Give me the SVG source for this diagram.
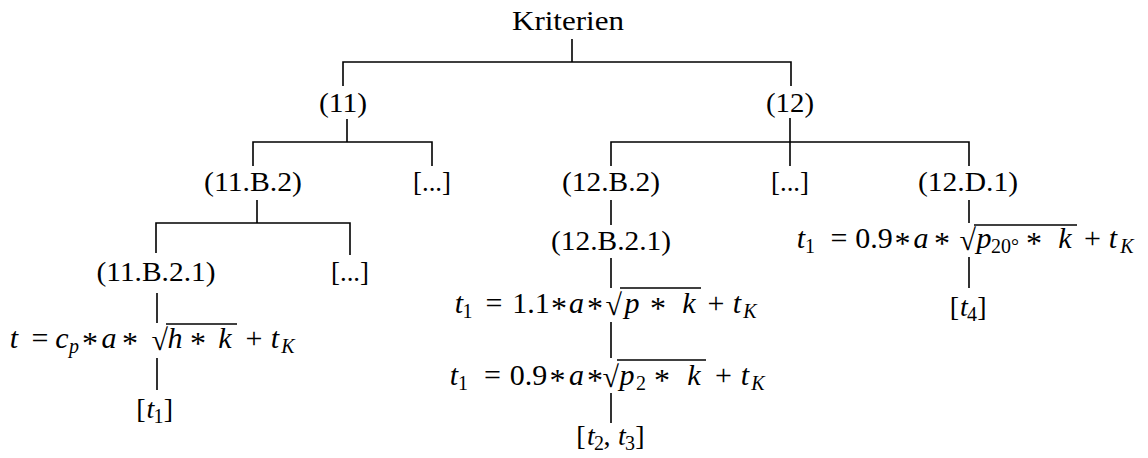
<svg xmlns="http://www.w3.org/2000/svg" width="1148" height="458" viewBox="0 0 1148 458">
<style>
.t{font-family:"Liberation Serif","Times New Roman",serif;font-size:28px;fill:#000;text-anchor:middle}
.m{font-family:"Liberation Serif","Times New Roman",serif;font-size:30px;fill:#000;text-anchor:middle}
.i{font-style:italic}
.s{font-size:20px}
.op{font-size:32px}
.rd{font-size:30px;text-anchor:end}
.c{stroke:#000;stroke-width:1.6;fill:none}
.ov{stroke:#000;stroke-width:1.3}
</style>
<rect width="1148" height="458" fill="#fff"/>
<g id="connectors">
<path class="c" d="M572 39V62M343 86V62H791V86"/>
<path class="c" d="M347 119V142M253 166V142H432V166"/>
<path class="c" d="M790 118V166M611 166V142H969V166"/>
<path class="c" d="M257 200V223M156 253V223H350V255"/>
<path class="c" d="M157 293V323M157 358V390"/>
<path class="c" d="M611 200V225M611 258V288M611 322V358M611 393V423"/>
<path class="c" d="M969 200V223M969 257V288"/>
</g>
<g id="n-kriterien"><text class="t" x="568" y="30" textLength="112" lengthAdjust="spacingAndGlyphs">Kriterien</text></g>
<g id="n-11"><text class="t" x="343" y="112" textLength="48" lengthAdjust="spacingAndGlyphs">(11)</text></g>
<g id="n-12"><text class="t" x="790" y="112" textLength="48" lengthAdjust="spacingAndGlyphs">(12)</text></g>
<g id="n-11B2"><text class="t" x="253" y="191" textLength="98" lengthAdjust="spacingAndGlyphs">(11.B.2)</text></g>
<g id="n-11dots"><text class="t" x="432" y="191" textLength="38" lengthAdjust="spacingAndGlyphs">[...]</text></g>
<g id="n-12B2"><text class="t" x="611" y="191" textLength="98" lengthAdjust="spacingAndGlyphs">(12.B.2)</text></g>
<g id="n-12dots"><text class="t" x="790" y="191" textLength="38" lengthAdjust="spacingAndGlyphs">[...]</text></g>
<g id="n-12D1"><text class="t" x="968" y="191" textLength="100" lengthAdjust="spacingAndGlyphs">(12.D.1)</text></g>
<g id="n-11B21"><text class="t" x="156" y="281" textLength="119" lengthAdjust="spacingAndGlyphs">(11.B.2.1)</text></g>
<g id="n-11B2dots"><text class="t" x="350" y="281" textLength="38" lengthAdjust="spacingAndGlyphs">[...]</text></g>
<g id="n-12B21"><text class="t" x="611" y="250" textLength="120" lengthAdjust="spacingAndGlyphs">(12.B.2.1)</text></g>
<g id="n-formulaA">
<text class="m"><tspan class="i" x="14" y="348">t</tspan><tspan x="40" y="348">=</tspan><tspan class="i" x="62" y="348">c</tspan><tspan class="i s" x="74" y="353">p</tspan><tspan class="op" x="90" y="354">*</tspan><tspan class="i" x="109" y="348">a</tspan><tspan class="op" x="130" y="354">*</tspan><tspan class="rd" x="168" y="350">√</tspan><tspan class="i" x="175" y="348">h</tspan><tspan class="op" x="198" y="354">*</tspan><tspan class="i" x="225" y="348">k</tspan><tspan x="254" y="348">+</tspan><tspan class="i" x="275" y="348">t</tspan><tspan class="i s" x="288" y="353">K</tspan></text>
<line class="ov" x1="166" y1="324" x2="237" y2="324"/>
</g>
<g id="n-t1"><text class="t" y="418"><tspan x="141">[</tspan><tspan class="i" x="150.5">t</tspan><tspan class="s" x="158.5" y="423">1</tspan><tspan x="168.5" y="418">]</tspan></text></g>
<g id="n-formulaB">
<text class="m"><tspan class="i" x="459" y="313">t</tspan><tspan class="s" x="467.5" y="318">1</tspan><tspan x="494" y="313">=</tspan><tspan x="531" y="313">1.1</tspan><tspan class="op" x="559" y="319">*</tspan><tspan class="i" x="576.5" y="313">a</tspan><tspan class="op" x="595" y="319">*</tspan><tspan class="rd" x="622" y="315">√</tspan><tspan class="i" x="632" y="313">p</tspan><tspan class="op" x="658" y="319">*</tspan><tspan class="i" x="689" y="313">k</tspan><tspan x="716" y="313">+</tspan><tspan class="i" x="737" y="313">t</tspan><tspan class="i s" x="750" y="318">K</tspan></text>
<line class="ov" x1="620" y1="288" x2="701" y2="288"/>
</g>
<g id="n-formulaD">
<text class="m"><tspan class="i" x="454" y="385">t</tspan><tspan class="s" x="463" y="390">1</tspan><tspan x="492.5" y="385">=</tspan><tspan x="528.5" y="385">0.9</tspan><tspan class="op" x="557.5" y="391">*</tspan><tspan class="i" x="576.5" y="385">a</tspan><tspan class="op" x="595" y="391">*</tspan><tspan class="rd" x="619" y="387">√</tspan><tspan class="i" x="627" y="385">p</tspan><tspan class="s" x="641" y="390">2</tspan><tspan class="op" x="662" y="391">*</tspan><tspan class="i" x="694" y="385">k</tspan><tspan x="723.5" y="385">+</tspan><tspan class="i" x="745" y="385">t</tspan><tspan class="i s" x="758" y="390">K</tspan></text>
<line class="ov" x1="617" y1="360" x2="706" y2="360"/>
</g>
<g id="n-t2t3"><text class="t" y="445"><tspan x="581">[</tspan><tspan class="i" x="591">t</tspan><tspan class="s" x="599" y="450">2</tspan><tspan x="607" y="445">,</tspan><tspan class="i" x="622">t</tspan><tspan class="s" x="630" y="450">3</tspan><tspan x="640" y="445">]</tspan></text></g>
<g id="n-formulaC">
<text class="m"><tspan class="i" x="801" y="248">t</tspan><tspan class="s" x="810" y="253">1</tspan><tspan x="839" y="248">=</tspan><tspan x="874" y="248">0.9</tspan><tspan class="op" x="902.5" y="254">*</tspan><tspan class="i" x="921" y="248">a</tspan><tspan class="op" x="942" y="254">*</tspan><tspan class="rd" x="976" y="250">√</tspan><tspan class="i" x="984" y="248">p</tspan><tspan class="s" x="1005" y="253">20°</tspan><tspan class="op" x="1034" y="254">*</tspan><tspan class="i" x="1065" y="248">k</tspan><tspan x="1092.5" y="248">+</tspan><tspan class="i" x="1113" y="248">t</tspan><tspan class="i s" x="1127" y="253">K</tspan></text>
<line class="ov" x1="974" y1="225" x2="1077" y2="225"/>
</g>
<g id="n-t4"><text class="t" y="316"><tspan x="954.5">[</tspan><tspan class="i" x="964">t</tspan><tspan class="s" x="972" y="321">4</tspan><tspan x="982" y="316">]</tspan></text></g>
</svg>
